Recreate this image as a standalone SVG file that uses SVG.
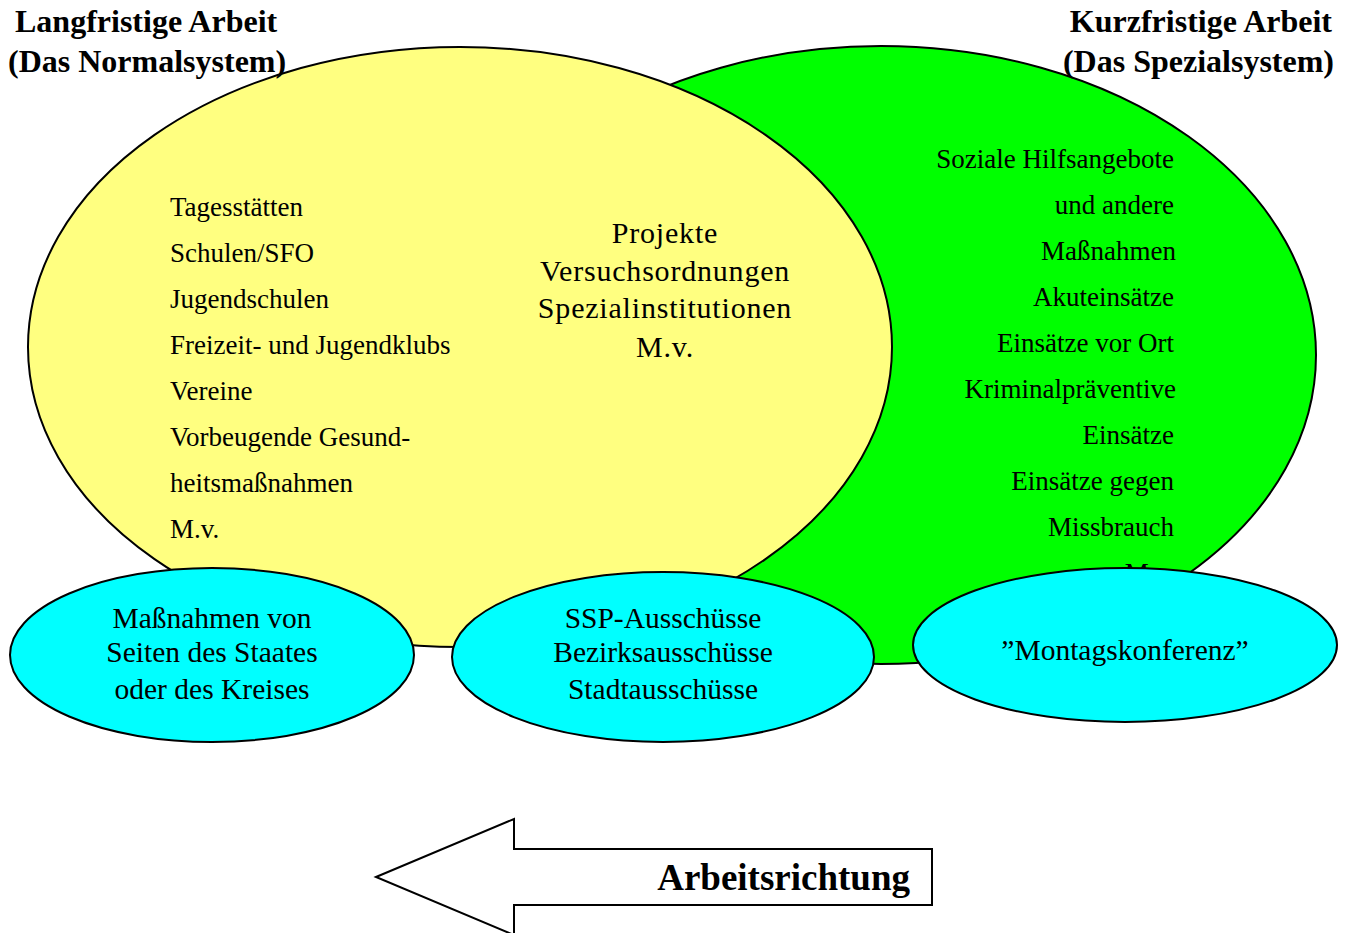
<svg xmlns="http://www.w3.org/2000/svg" width="1346" height="933" viewBox="0 0 1346 933">
<style>
.e{stroke:#000;stroke-width:2}
.t{font-family:"Liberation Serif","Times New Roman",serif;fill:#000}
.s{font-size:27px}
.m{font-size:29.5px;text-anchor:middle}
.c{font-size:30px;letter-spacing:0.8px;text-anchor:middle}
.b{font-weight:bold;font-size:32px}
</style>
<rect width="1346" height="933" fill="#fff"/>
<g id="green">
<ellipse class="e" cx="881" cy="355" rx="435" ry="309" fill="#00ff00"/>
<g class="t s" text-anchor="end">
<text x="1174" y="168">Soziale Hilfsangebote</text>
<text x="1174" y="214">und andere</text>
<text x="1176" y="260">Maßnahmen</text>
<text x="1174" y="306">Akuteinsätze</text>
<text x="1174" y="352">Einsätze vor Ort</text>
<text x="1176" y="398">Kriminalpräventive</text>
<text x="1174" y="444">Einsätze</text>
<text x="1174" y="490">Einsätze gegen</text>
<text x="1174" y="536">Missbrauch</text>
<text x="1174" y="582">M.v.</text>
</g>
</g>
<g id="yellow">
<ellipse class="e" cx="460" cy="347" rx="432" ry="300" fill="#ffff80"/>
<g class="t s">
<text x="170" y="216">Tagesstätten</text>
<text x="170" y="262">Schulen/SFO</text>
<text x="170" y="308">Jugendschulen</text>
<text x="170" y="354">Freizeit- und Jugendklubs</text>
<text x="170" y="400">Vereine</text>
<text x="170" y="446">Vorbeugende Gesund-</text>
<text x="170" y="492">heitsmaßnahmen</text>
<text x="170" y="538">M.v.</text>
</g>
<g class="t c">
<text x="665" y="243">Projekte</text>
<text x="665" y="281">Versuchsordnungen</text>
<text x="665" y="318">Spezialinstitutionen</text>
<text x="665" y="357">M.v.</text>
</g>
</g>
<g id="staat">
<ellipse class="e" cx="212" cy="655" rx="202" ry="87" fill="#00ffff"/>
<g class="t m">
<text x="212" y="628">Maßnahmen von</text>
<text x="212" y="662">Seiten des Staates</text>
<text x="212" y="699">oder des Kreises</text>
</g>
</g>
<g id="ausschuesse">
<ellipse class="e" cx="663" cy="657" rx="211" ry="85" fill="#00ffff"/>
<g class="t m">
<text x="663" y="628">SSP-Ausschüsse</text>
<text x="663" y="662">Bezirksausschüsse</text>
<text x="663" y="699">Stadtausschüsse</text>
</g>
</g>
<g id="montag">
<ellipse class="e" cx="1125" cy="645" rx="212" ry="77" fill="#00ffff"/>
<text class="t m" x="1125" y="660">”Montagskonferenz”</text>
</g>
<g id="titles" class="t b">
<text x="15" y="32">Langfristige Arbeit</text>
<text x="8" y="72">(Das Normalsystem)</text>
<text x="1332" y="32" text-anchor="end">Kurzfristige Arbeit</text>
<text x="1334" y="72" text-anchor="end">(Das Spezialsystem)</text>
</g>
<g id="arrow">
<polygon points="376,877 514,819 514,849 932,849 932,905 514,905 514,935" fill="#fff" stroke="#000" stroke-width="2"/>
<text class="t" x="910" y="890" text-anchor="end" font-weight="bold" font-size="37">Arbeitsrichtung</text>
</g>
</svg>
